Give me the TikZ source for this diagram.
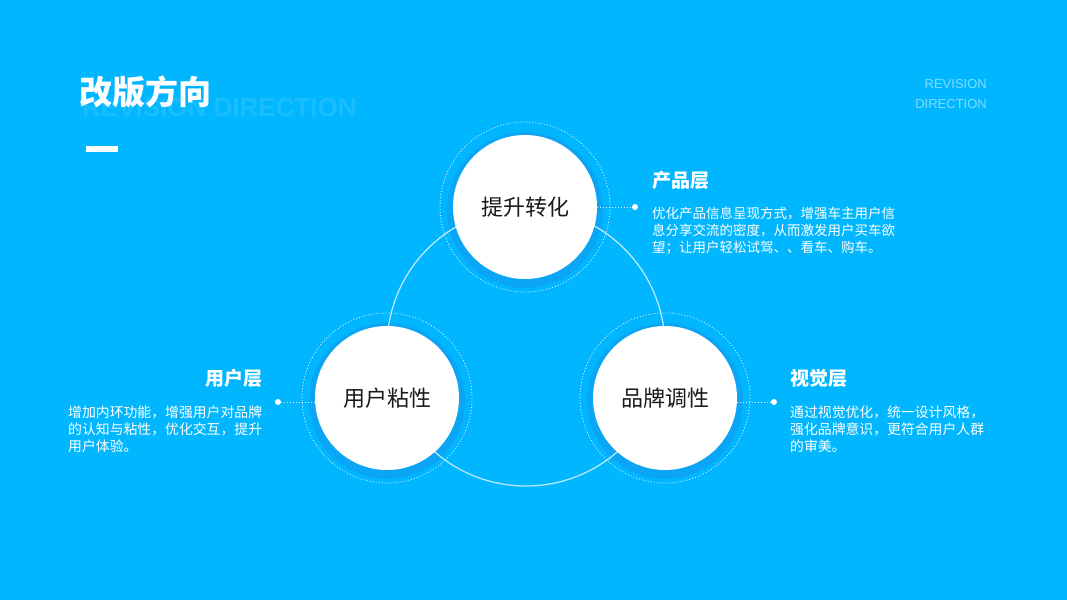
\documentclass[tikz,border=0pt]{standalone}
\usepackage{fontspec}
\setmainfont{Noto Sans CJK SC}
\newfontfamily\arialfont{Liberation Sans}
\definecolor{bgc}{RGB}{0,183,255}
\definecolor{ringc}{RGB}{10,166,245}
\definecolor{labelc}{RGB}{26,26,26}
\begin{document}
\begin{tikzpicture}[x=1pt,y=-1pt,
  whitecirc/.style={circle, fill=white, minimum size=144pt, inner sep=0pt, font=\fontsize{22}{26}\selectfont, text=labelc},
  ringfill/.style={fill=ringc},
  dotring/.style={draw=white, dash pattern=on 1pt off 2pt, line width=0.8pt, draw opacity=0.85},
  conn/.style={draw=white, dash pattern=on 1pt off 2pt, line width=0.8pt, draw opacity=0.85},
  enddot/.style={circle, fill=white, minimum size=6pt, inner sep=0pt},
  head/.style={text=white, font=\fontsize{19}{22}\selectfont\bfseries, inner sep=0pt},
  para/.style={text=white, align=left, inner sep=0pt, text width=260pt, anchor=base west},
]
\useasboundingbox (0,0) rectangle (1067,600);
\fill[bgc] (0,0) rectangle (1067,600);

% title area
\node[anchor=base west, inner sep=0pt, text=white, text opacity=0.1, font=\arialfont\bfseries\fontsize{26}{30}\selectfont] (sub) at (82,116) {REVISION DIRECTION};
\node[anchor=west, inner sep=0pt, text=white, font=\fontsize{33}{38}\selectfont\bfseries] (title) at (79,92) {改版方向};
\fill[white] (86,146) rectangle (118,152);
\node[anchor=base east, inner sep=0pt, text width=90pt, align=right, text=white, text opacity=0.5, font=\arialfont\fontsize{13}{20}\selectfont] (rev) at (987,88) {REVISION\\DIRECTION};

% centres
\coordinate (ct) at (525,207);
\coordinate (cl) at (387,398);
\coordinate (cr) at (665,398);

% shadow rings
\foreach \c in {ct,cl,cr} {
  \fill[ringfill] ([yshift=-3pt]\c) circle[radius=78];
}
% big circle
\coordinate (cbig) at (526,347);
\draw[white, line width=1.2pt, draw opacity=0.75] (cbig) circle[radius=139];
% dotted rings
\foreach \c in {ct,cl,cr} {
  \draw[dotring] (\c) circle[radius=85];
}

% main circles
\node[whitecirc] (top) at (ct) {提升转化};
\node[whitecirc] (left) at (cl) {用户粘性};
\node[whitecirc] (right) at (cr) {品牌调性};

% connectors
\node[enddot] (dt) at (635,207) {};
\node[enddot] (dl) at (278,402) {};
\node[enddot] (dr) at (774,402) {};
\draw[conn] (top) -- (dt);
\draw[conn] (dl) -- (dl -| left.west);
\draw[conn] (dr) -- (dr -| right.east);

% texts
\node[head, anchor=west] (ht) at (652,180) {产品层};
\node[para, font=\fontsize{13.5}{17}\selectfont] (pt) at (652,218) {优化产品信息呈现方式，增强车主用户信\\息分享交流的密度，从而激发用户买车欲\\望；让用户轻松试驾、、看车、购车。};

\node[head, anchor=east] (hl) at (263,378) {用户层};
\node[para, font=\fontsize{13.85}{17}\selectfont] (pl) at (68,417) {增加内环功能，增强用户对品牌\\的认知与粘性，优化交互，提升\\用户体验。};

\node[head, anchor=west] (hr) at (790,378) {视觉层};
\node[para, font=\fontsize{13.85}{17}\selectfont] (pr) at (790,417) {通过视觉优化，统一设计风格，\\强化品牌意识，更符合用户人群\\的审美。};
\end{tikzpicture}
\end{document}
